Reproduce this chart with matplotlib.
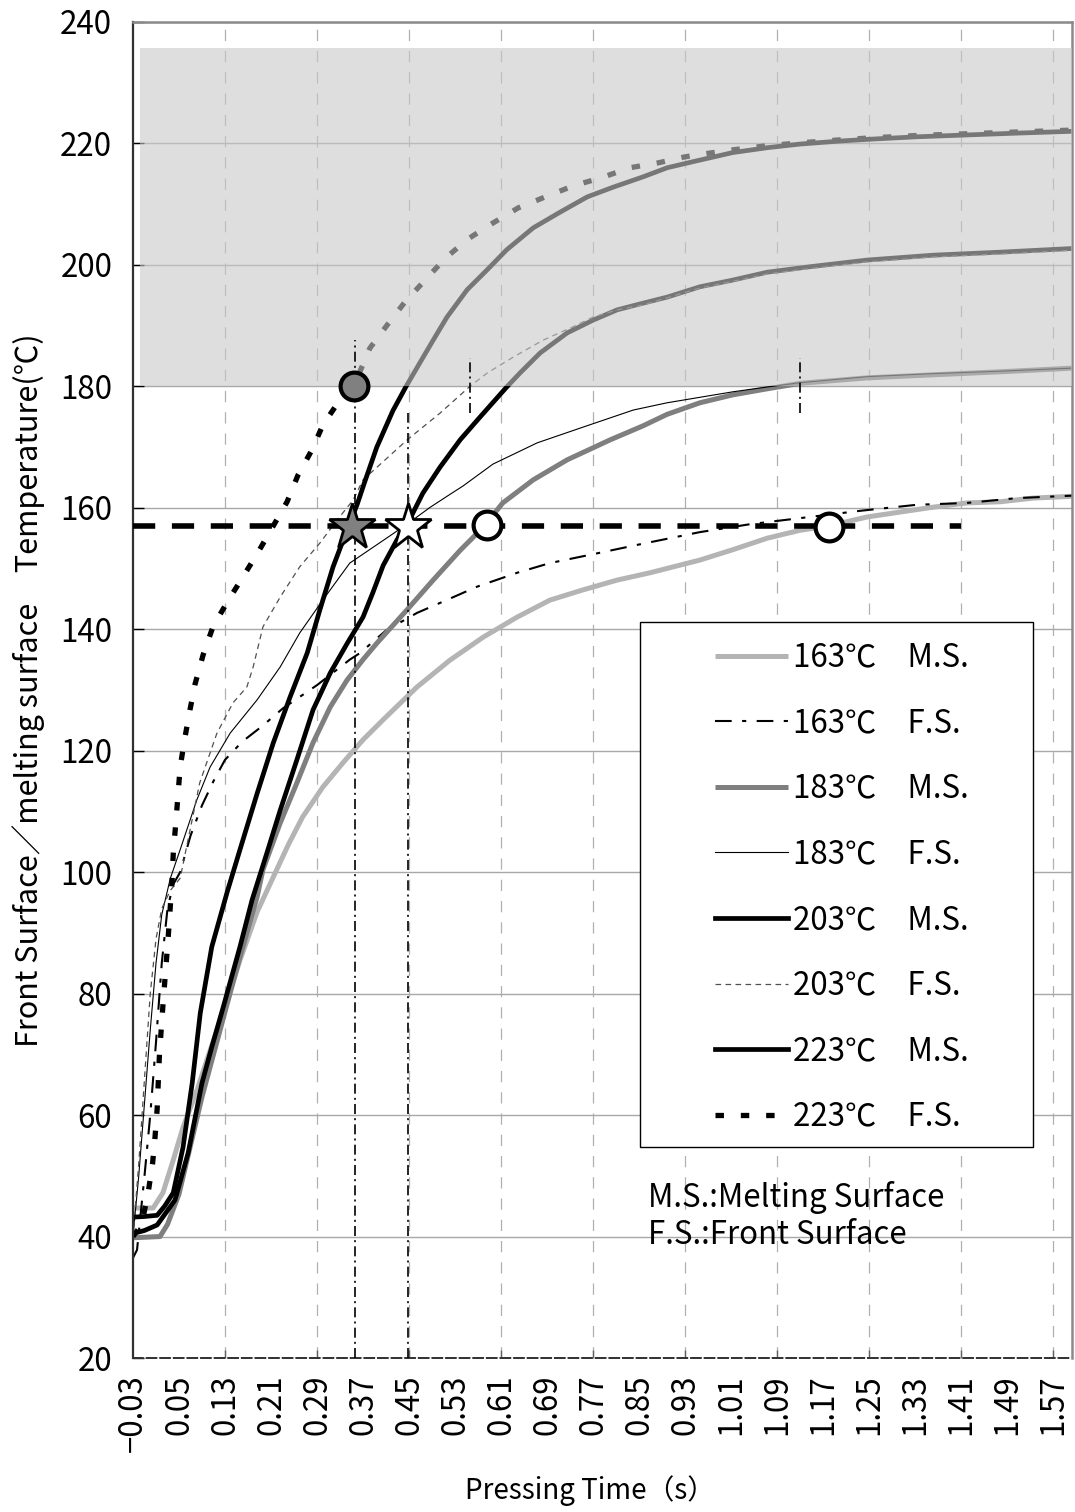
import matplotlib
matplotlib.use("Agg")
import matplotlib.pyplot as plt
from matplotlib.patches import Rectangle
import numpy as np

plt.rcParams['font.family'] = ['Noto Sans CJK JP', 'DejaVu Sans']

# ---------------- data ----------------
t163ms = [-0.03, 0.005, 0.022, 0.04, 0.057, 0.081, 0.10, 0.127, 0.156, 0.186, 0.213, 0.24, 0.265, 0.30, 0.335, 0.37,
          0.405, 0.464, 0.521, 0.579, 0.638, 0.695, 0.753, 0.812, 0.869, 0.956, 1.013, 1.073, 1.13, 1.179, 1.247,
          1.304, 1.361, 1.42, 1.478, 1.535, 1.603]
T163ms = [44.7, 44.7, 47.2, 52.6, 58.0, 64.0, 69.5, 77.0, 85.5, 93.5, 99.0, 104.5, 109.1, 114.0, 118.0, 121.8,
          125.1, 130.5, 134.9, 138.7, 142.0, 144.8, 146.5, 148.1, 149.3, 151.4, 153.1, 155.0, 156.3, 157.0, 158.5,
          159.3, 160.1, 160.8, 161.0, 161.6, 161.9]

t163fs = [-0.03, -0.023, -0.01, 0.0, 0.01, 0.02, 0.03, 0.04, 0.052, 0.07, 0.09, 0.11, 0.13, 0.16, 0.194, 0.231,
          0.29, 0.347, 0.365, 0.41, 0.464, 0.52, 0.568, 0.638, 0.695, 0.782, 0.852, 0.956, 1.043, 1.13, 1.234,
          1.333, 1.42, 1.507, 1.603]
T163fs = [36.5, 37.8, 50, 60, 72, 85, 94, 98, 100, 106, 111, 115, 118.5, 121.5, 124, 127,
          130.8, 135, 136.1, 139.8, 142.7, 145, 147, 149.3, 150.9, 152.6, 154, 156, 157.3, 158.3, 159.5,
          160.5, 160.8, 161.6, 162]

t183ms = [-0.03, 0.017, 0.03, 0.05, 0.07, 0.09, 0.11, 0.13, 0.156, 0.186, 0.196, 0.226, 0.255, 0.283, 0.313, 0.342,
          0.37, 0.394, 0.4465, 0.492, 0.539, 0.579, 0.613, 0.666, 0.725, 0.80, 0.857, 0.899, 0.956, 1.013, 1.073,
          1.13, 1.247, 1.361, 1.478, 1.603]
T183ms = [39.8, 40.0, 42, 47, 55, 63, 70, 77, 86, 96, 100.4, 108.1, 114.7, 121.3, 127.2, 131.6,
          135, 137.7, 143.2, 148.1, 153, 156.8, 160.8, 164.6, 167.9, 171.2, 173.5, 175.4, 177.3, 178.6, 179.6,
          180.5, 181.4, 181.9, 182.4, 183.0]

t183fs = [-0.03, -0.02, -0.01, 0.0, 0.01, 0.02, 0.035, 0.052, 0.081, 0.104, 0.139, 0.186, 0.226, 0.26, 0.30, 0.347,
          0.40, 0.4465, 0.487, 0.521, 0.544, 0.596, 0.673, 0.753, 0.84, 0.899, 0.956, 1.013, 1.073, 1.13, 1.247,
          1.361, 1.478, 1.603]
T183fs = [40, 50, 62, 74, 85, 93, 99, 103.7, 111.9, 117.3, 122.9, 128.4, 133.8, 139.4, 144.8, 150.9,
          154.3, 157.3, 160.1, 162.2, 163.6, 167.2, 170.7, 173.3, 176.1, 177.3, 178.2, 179.1, 179.9, 180.6, 181.6,
          182.1, 182.5, 183.0]

t203ms = [-0.03, -0.01, 0.012, 0.043, 0.066, 0.09, 0.107, 0.127, 0.156, 0.177, 0.203, 0.226, 0.255, 0.283, 0.313,
          0.342, 0.37, 0.387, 0.405, 0.429, 0.448, 0.474, 0.504, 0.539, 0.574, 0.62, 0.643, 0.678, 0.725, 0.77,
          0.812, 0.857, 0.899, 0.956, 1.013, 1.073, 1.147, 1.247, 1.361, 1.478, 1.603]
T203ms = [40.5, 41.0, 41.9, 46.0, 53.8, 65.3, 71.2, 77.8, 87.7, 95.4, 103.2, 110.2, 118.5, 126.7, 132.8,
          137.6, 142.0, 146.0, 150.5, 154.7, 157.5, 162.4, 166.7, 171.2, 175.0, 179.9, 182.2, 185.5, 188.8, 190.9,
          192.6, 193.7, 194.7, 196.4, 197.5, 198.8, 199.7, 200.8, 201.6, 202.1, 202.7]

t203fs = [-0.03, -0.02, -0.01, 0.0, 0.01, 0.02, 0.035, 0.052, 0.086, 0.116, 0.144, 0.168, 0.179, 0.196, 0.226,
          0.26, 0.295, 0.325, 0.353, 0.37, 0.447, 0.504, 0.556, 0.586, 0.631, 0.683, 0.735, 0.77, 0.812, 0.857,
          0.956, 1.013, 1.073, 1.147, 1.247, 1.361, 1.478, 1.603]
T203fs = [40, 52, 66, 80, 89, 94, 97, 99, 114.7, 122.9, 127.9, 130.5, 133.8, 140.4, 145.3,
          150.3, 154.2, 158, 161.3, 164.6, 171.2, 175.6, 180, 182.2, 184.8, 187.6, 189.8, 191.4, 192.6, 193.4,
          196.2, 197.3, 198.5, 199.4, 200.5, 201.3, 201.8, 202.4]

t223ms = [-0.03, -0.01, 0.012, 0.025, 0.04, 0.057, 0.073, 0.087, 0.107, 0.134, 0.156, 0.186, 0.214, 0.243, 0.273,
          0.295, 0.318, 0.342, 0.36, 0.372, 0.394, 0.422, 0.445, 0.469, 0.492, 0.516, 0.551, 0.586, 0.62, 0.666,
          0.713, 0.76, 0.805, 0.857, 0.899, 0.944, 1.013, 1.073, 1.13, 1.2, 1.252, 1.334, 1.42, 1.507, 1.603]
T223ms = [43.2, 43.3, 43.5, 45, 47.2, 54.7, 65.3, 76.8, 87.7, 96.8, 103.7, 113, 121.3, 128.8, 136.1,
          143.2, 150.3, 156.3, 160.6, 164, 170, 176, 180, 183.9, 187.6, 191.4, 195.9, 199.2, 202.5, 206.1,
          208.7, 211.2, 212.8, 214.5, 216, 217, 218.5, 219.3, 219.9, 220.4, 220.7, 221.1, 221.4, 221.7, 222.0]

t223fs = [-0.03, -0.015, -0.004, 0.004, 0.008, 0.012, 0.016, 0.022, 0.031, 0.038, 0.040, 0.046, 0.052, 0.06, 0.069,
          0.078, 0.092, 0.109, 0.134, 0.161, 0.187, 0.212, 0.238, 0.257, 0.281, 0.30, 0.33, 0.356, 0.382, 0.412,
          0.443, 0.478, 0.513, 0.553, 0.596, 0.64, 0.687, 0.735, 0.786, 0.834, 0.883, 0.93, 1.0, 1.07, 1.13, 1.2,
          1.25, 1.33, 1.42, 1.51, 1.603]
T223fs = [40, 42, 47, 52, 56, 61, 70, 78, 89, 98.7, 103, 110, 117.3, 122, 126.7,
          131, 135.8, 140.4, 144.5, 148.6, 152.6, 156.7, 161, 165.4, 169.5, 173.6, 177.8, 180.5, 186.3, 190.1,
          193.9, 197.5, 201.1, 204.3, 206.9, 209.4, 211.2, 213, 214.4, 216, 216.8, 217.8, 218.8, 219.6, 220.1, 220.6,
          220.9, 221.3, 221.6, 221.9, 222.2]

# reference level and markers
ref_temp = 157
ref_t_range = [-0.03, 1.41]
shade_t = [-0.018, 1.603]
shade_T = [180, 235.7]
gray_circle = (0.354, 180)
gray_star = (0.350, 156.8)
white_star = (0.448, 156.8)
white_circles_t = [0.585, 1.18]
white_circles_T = [157.2, 156.9]
vline_t = [0.356, 0.448, 0.556, 1.13]
vline_top = [187.6, 175.6, 184.7, 184.7]
vline_bottom = [20, 20, 175.6, 175.6]

labels = ['163℃　M.S.', '163℃　F.S.', '183℃　M.S.', '183℃　F.S.',
          '203℃　M.S.', '203℃　F.S.', '223℃　M.S.', '223℃　F.S.']

x_label_ticks = [round(-0.03 + 0.08 * i, 2) for i in range(21)]
x_grid_ticks = x_label_ticks[2::2]
x_minor_ticks = [v for v in x_label_ticks if v not in x_grid_ticks]
y_ticks = list(range(20, 241, 20))

FS = 22.5
FS_LAB = 20

# ---------------- figure ----------------
fig = plt.figure(figsize=(10.75, 15.12), dpi=100)
ax = fig.add_axes([0.12372, 0.10185, 0.87349, 0.88360])
ax.set_xlim(-0.03, 1.603)
ax.set_ylim(20, 240)

# curves
h1, = ax.plot(t163ms, T163ms, color='#b4b4b4', lw=3.6, solid_capstyle='butt', zorder=2)
h2, = ax.plot(t163fs, T163fs, color='black', lw=1.5, linestyle=(0, (8, 5, 2, 5)), zorder=2)
h3, = ax.plot(t183ms, T183ms, color='#7f7f7f', lw=3.6, solid_capstyle='butt', zorder=2)
h4, = ax.plot(t183fs, T183fs, color='black', lw=0.8, zorder=2)
h5, = ax.plot(t203ms, T203ms, color='black', lw=3.4, zorder=2)
h6, = ax.plot(t203fs, T203fs, color='#505050', lw=0.9, linestyle=(0, (4.5, 3.5)), zorder=2)
h7, = ax.plot(t223ms, T223ms, color='black', lw=3.4, zorder=2)
h8, = ax.plot(t223fs, T223fs, color='black', lw=3.8, linestyle=(0, (1.6, 3.2)), dash_capstyle='butt', zorder=2)

# shaded zone (over the curves, semi-transparent)
ax.add_patch(Rectangle((shade_t[0], shade_T[0]), shade_t[1] - shade_t[0], shade_T[1] - shade_T[0],
                       facecolor='#c8c8c8', edgecolor='none', alpha=0.6, zorder=3))

# reference line, verticals
ax.hlines(ref_temp, ref_t_range[0], ref_t_range[1], colors='black', lw=4.0,
          linestyles=[(0, (4, 3))], zorder=4)
ax.vlines(vline_t, vline_bottom, vline_top, colors='black', lw=1.2,
          linestyles=[(0, (6, 2.5, 1.2, 2.5))], zorder=4)

# markers
ax.plot([gray_circle[0]], [gray_circle[1]], 'o', ms=20, mfc='#808080', mec='black', mew=3, zorder=6)
ax.plot([gray_star[0]], [gray_star[1]], '*', ms=35, mfc='#808080', mec='black', mew=2, zorder=6)
ax.plot([white_star[0]], [white_star[1]], '*', ms=35, mfc='white', mec='black', mew=2, zorder=6)
ax.plot(white_circles_t, white_circles_T, 'o', ls='none', ms=20, mfc='white', mec='black', mew=3, zorder=6)

# axes styling
ax.set_yticks(y_ticks)
ax.set_xticks(x_grid_ticks)
ax.set_xticks(x_minor_ticks, minor=True)
fmt = lambda v: f"{v:.2f}".replace('-', '−')
ax.set_xticklabels([fmt(v) for v in x_grid_ticks], rotation=90)
ax.set_xticklabels([fmt(v) for v in x_minor_ticks], minor=True, rotation=90)
ax.tick_params(axis='x', which='both', labelsize=FS, pad=12)
ax.tick_params(axis='x', which='major', direction='in', length=6, width=1, color='#606060')
ax.tick_params(axis='x', which='minor', length=0)
ax.tick_params(axis='y', which='major', direction='in', length=8, width=1, labelsize=FS, pad=15)

ax.grid(axis='y', which='major', color='#a8a8a8', lw=1.0, zorder=0)
ax.grid(axis='x', which='major', color='#b0b0b0', lw=0.9, linestyle=(0, (9, 8)), zorder=0)
ax.set_axisbelow(True)

ax.spines['left'].set_color('#303030')
ax.spines['left'].set_linewidth(1.6)
ax.spines['bottom'].set_color('#303030')
ax.spines['bottom'].set_linewidth(1.4)
ax.spines['bottom'].set_linestyle((0, (5, 2)))
for s in ('top', 'right'):
    ax.spines[s].set_color('#8a8a8a')
    ax.spines[s].set_linewidth(1.8)

ax.set_ylabel('Front Surface／melting surface　Temperature(℃)', fontsize=22)
ax.yaxis.set_label_coords(-0.094, 0.5)
ax.set_xlabel('Pressing Time（s）', fontsize=FS_LAB)
ax.xaxis.set_label_coords(0.487, -0.088)

# legend box
ax.add_patch(Rectangle((0.540, 0.158), 0.4185, 0.393, transform=ax.transAxes,
                       facecolor='white', edgecolor='black', lw=1.0, zorder=7))
leg = ax.legend([h1, h2, h3, h4, h5, h6, h7, h8], labels, loc='upper left',
                bbox_to_anchor=(0.6198, 0.5362), frameon=False, fontsize=FS,
                handlelength=2.35, handletextpad=0.16, labelspacing=1.075, borderpad=0,
                borderaxespad=0)
leg.set_zorder(8)

ax.text(0.548, 0.1205, 'M.S.:Melting Surface', transform=ax.transAxes, fontsize=FS, va='center', ha='left')
ax.text(0.548, 0.092, 'F.S.:Front Surface', transform=ax.transAxes, fontsize=FS, va='center', ha='left')

fig.savefig('out.png', dpi=100)
